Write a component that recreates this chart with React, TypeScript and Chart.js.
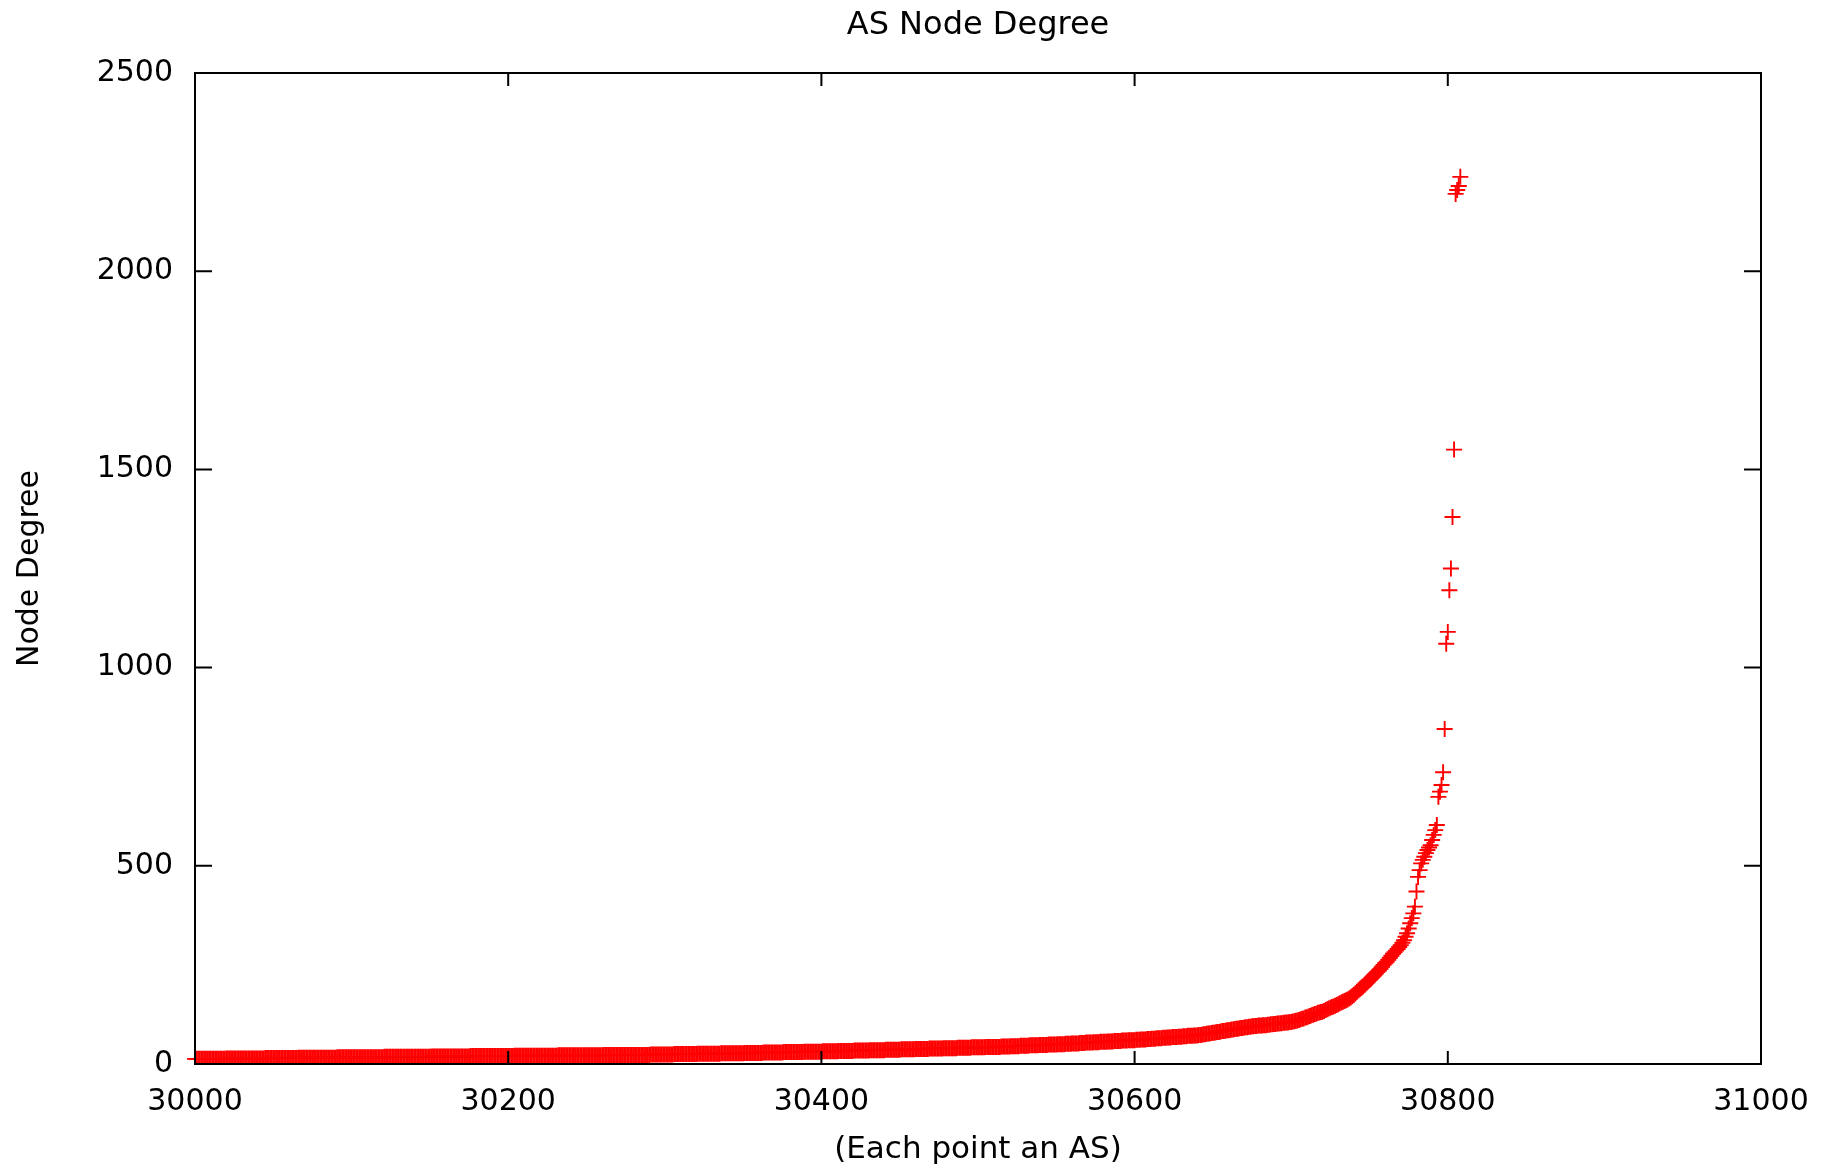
import { useEffect, useRef } from "react";
import { Chart, registerables } from "chart.js";

Chart.register(...registerables);

const TITLE = "AS Node Degree";
const X_LABEL = "(Each point an AS)";
const Y_LABEL = "Node Degree";
const X_TICKS = [30000, 30200, 30400, 30600, 30800, 31000];
const Y_TICKS = [0, 500, 1000, 1500, 2000, 2500];
const FIRST_AS = 30000;

// Low-degree part of the sorted list: each degree value and how many consecutive ASes share it
const lowDegreeValues = [
  13, 14, 15, 16, 17, 18, 19, 20, 21, 22, 23, 24, 25, 26, 27, 28, 29, 30, 31, 32,
  33, 34, 35, 36, 37, 38, 39, 40, 41, 42, 43, 44, 45, 46, 47, 48, 49, 50, 51, 52,
  53, 54, 55, 56, 57, 58, 59, 60, 61, 62, 63, 64, 65, 66, 67, 68, 69, 70, 71, 72,
];
const lowDegreeCounts = [
  20, 25, 21, 25, 30, 30, 25, 28, 28, 29, 30, 15, 15, 15, 15, 12, 13, 13, 12, 10,
  10, 10, 10, 10, 9, 9, 9, 9, 9, 9, 10, 6, 6, 6, 6, 6, 6, 5, 4, 5,
  4, 5, 4, 5, 4, 5, 4, 5, 3, 4, 3, 3, 4, 3, 3, 4, 3, 3, 4, 3,
];
// Following ASes, one value each
const midDegrees = [
  73, 73, 74, 75, 75, 76, 77, 77, 78, 79, 79, 80, 81, 81, 82, 83, 83, 84, 85, 85,
  86, 87, 87, 88, 89, 89, 90, 91, 91, 92, 93, 93, 94, 94, 95, 95, 96, 96, 97, 97,
  97, 98, 98, 98, 99, 99, 100, 100, 101, 101, 102, 102, 103, 103, 104, 104, 105, 105, 106, 106,
  107, 108, 109, 110, 111, 113, 114, 115, 117, 118, 120, 121, 123, 124, 126, 127, 129, 130, 131, 132,
  134, 136, 138, 140, 142, 144, 145, 147, 149, 151, 153, 155, 157, 159, 161, 163, 165,
];
const upperDegrees = [
  168, 171, 174, 178, 182, 186, 190, 193, 196, 200, 204, 208, 212, 216, 220, 224, 228, 232, 236, 240,
  245, 250, 254, 258, 263, 268, 273, 278, 282, 286, 290, 295, 300,
];
const tailDegrees = [
  306, 312, 321, 330, 342, 355, 368, 380, 397, 435, 472, 489, 506, 515, 523, 532, 540, 546, 552, 565,
  578, 590, 603, 674, 687, 704, 736, 845, 1060, 1090, 1195, 1250, 1380, 1550, 2195, 2205, 2215, 2238,
];

const FONT = "'DejaVu Sans', sans-serif";

export default function App() {
  const ref = useRef<HTMLCanvasElement | null>(null);

  useEffect(() => {
    document.body.style.margin = "0";
    const degrees: number[] = [];
    lowDegreeValues.forEach((d, i) => {
      for (let k = 0; k < lowDegreeCounts[i]; k++) degrees.push(d);
    });
    degrees.push(...midDegrees, ...upperDegrees, ...tailDegrees);
    const points = degrees.map((d, i) => ({ x: FIRST_AS + i, y: d }));

    const framePlugin = {
      id: "frame",
      afterDatasetsDraw(chart: any) {
        const { ctx, chartArea: a, scales } = chart;
        ctx.save();
        ctx.strokeStyle = "#000";
        ctx.lineWidth = 2;
        ctx.lineCap = "butt";
        ctx.strokeRect(a.left, a.top, a.right - a.left, a.bottom - a.top);
        ctx.beginPath();
        for (const v of X_TICKS) {
          const px = scales.x.getPixelForValue(v);
          ctx.moveTo(px, a.bottom);
          ctx.lineTo(px, a.bottom - 13);
          ctx.moveTo(px, a.top);
          ctx.lineTo(px, a.top + 13);
        }
        for (const v of Y_TICKS) {
          const py = scales.y.getPixelForValue(v);
          ctx.moveTo(a.left, py);
          ctx.lineTo(a.left + 17, py);
          ctx.moveTo(a.right, py);
          ctx.lineTo(a.right - 17, py);
        }
        ctx.stroke();
        ctx.restore();
      },
    };

    const chart = new Chart(ref.current as HTMLCanvasElement, {
      type: "scatter",
      data: {
        datasets: [
          {
            data: points,
            pointStyle: "cross",
            pointRadius: 8,
            pointHoverRadius: 8,
            borderColor: "#ff0000",
            backgroundColor: "#ff0000",
            borderWidth: 1.9,
            clip: { left: 12, right: 12, top: 12, bottom: 0 },
          } as any,
        ],
      },
      options: {
        responsive: false,
        animation: false,
        devicePixelRatio: 1,
        events: [],
        layout: { padding: { left: 0, right: 76, top: 0, bottom: 0 } },
        plugins: {
          legend: { display: false },
          tooltip: { enabled: false },
          title: {
            display: true,
            text: TITLE,
            fullSize: false,
            color: "#000",
            font: { family: FONT, size: 32, weight: "normal" },
            padding: { top: 6, bottom: 28.6 },
          },
        },
        scales: {
          x: {
            type: "linear",
            min: 30000,
            max: 31000,
            afterBuildTicks: (s: any) => {
              s.ticks = X_TICKS.map((v) => ({ value: v }));
            },
            afterFit: (s: any) => {
              s.height = 102;
            },
            grid: { display: false, drawTicks: false },
            border: { display: false },
            ticks: {
              padding: 20,
              color: "#000",
              font: { family: FONT, size: 30 },
              maxRotation: 0,
              autoSkip: false,
              callback: (v: any) => String(v),
            },
            title: {
              display: true,
              text: X_LABEL,
              color: "#000",
              font: { family: FONT, size: 31 },
              padding: { top: 0, bottom: -3 },
            },
          },
          y: {
            type: "linear",
            min: 0,
            max: 2500,
            afterBuildTicks: (s: any) => {
              s.ticks = Y_TICKS.map((v) => ({ value: v }));
            },
            afterFit: (s: any) => {
              s.width = 195;
            },
            grid: { display: false, drawTicks: false },
            border: { display: false },
            ticks: {
              padding: 22,
              color: "#000",
              font: { family: FONT, size: 30 },
              autoSkip: false,
              callback: (v: any) => String(v),
            },
            title: {
              display: true,
              text: Y_LABEL,
              color: "#000",
              font: { family: FONT, size: 30 },
              padding: { top: 12, bottom: 0 },
            },
          },
        },
      } as any,
      plugins: [framePlugin],
    });
    return () => chart.destroy();
  }, []);

  return (
    <div style={{ position: "fixed", left: 0, top: 0, width: 1837, height: 1166, background: "#fff" }}>
      <canvas ref={ref} width={1837} height={1166} style={{ display: "block", width: 1837, height: 1166 }} />
    </div>
  );
}
